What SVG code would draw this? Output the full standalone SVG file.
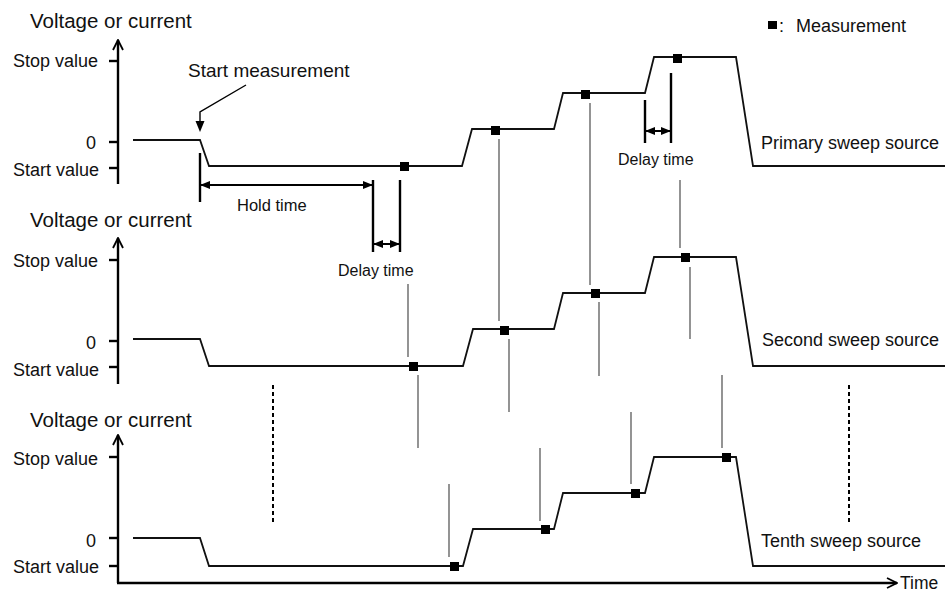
<svg xmlns="http://www.w3.org/2000/svg" width="950" height="593" viewBox="0 0 950 593">
<defs>
<style>
text{font-family:"Liberation Sans",Arial,sans-serif;fill:#111}
.title{font-size:20.5px}
.tick{font-size:18px;text-anchor:end}
.lbl{font-size:18px}
.small{font-size:16px}
.axis{stroke:#000;stroke-width:2.4;fill:none}
.wave{stroke:#111;stroke-width:1.8;fill:none;stroke-linejoin:miter}
.bar{stroke:#000;stroke-width:2.4;fill:none}
.guide{stroke:#666;stroke-width:1.4;fill:none}
.dots{stroke:#000;stroke-width:2;stroke-dasharray:4 3;fill:none}
.meas{fill:#000}
</style>
<marker id="ah" viewBox="0 0 10 10" refX="9" refY="5" markerWidth="10" markerHeight="10" markerUnits="userSpaceOnUse" orient="auto-start-reverse">
<path d="M0,1 L10,5 L0,9 Z" fill="#000"/>
</marker>
<marker id="axh" viewBox="0 0 12 12" refX="11" refY="6" markerWidth="12" markerHeight="12" markerUnits="userSpaceOnUse" orient="auto">
<path d="M1,1 L11,6 L1,11" fill="none" stroke="#000" stroke-width="1.8"/>
</marker>
</defs>
<rect width="950" height="593" fill="#fff"/>

<g id="legend">
<rect x="768" y="21" width="9" height="8" class="meas"/>
<text x="779" y="32" class="lbl">:</text>
<text x="796" y="32" class="lbl">Measurement</text>
</g>

<g id="panel-primary">
<text x="30" y="28" class="title">Voltage or current</text>
<line x1="118" y1="184" x2="118" y2="40" class="axis" marker-end="url(#axh)"/>
<line x1="109" y1="61" x2="118" y2="61" class="axis"/>
<line x1="109" y1="142" x2="118" y2="142" class="axis"/>
<line x1="109" y1="168" x2="118" y2="168" class="axis"/>
<text x="98" y="67" class="tick">Stop value</text>
<text x="96" y="149" class="tick">0</text>
<text x="99" y="176" class="tick">Start value</text>
<polyline class="wave" points="133,140 200,140 209,166 462,166 472,129 554,129 563,93 645,93 654,57 736,57 753,166 945,166"/>
<rect x="400" y="162" width="9" height="9" class="meas"/>
<rect x="491" y="126" width="9" height="9" class="meas"/>
<rect x="581" y="90" width="9" height="9" class="meas"/>
<rect x="673" y="54" width="9" height="9" class="meas"/>
<text x="761" y="149" class="lbl">Primary sweep source</text>
</g>

<g id="start-measurement">
<text x="188" y="77" style="font-size:19px">Start measurement</text>
<polyline points="246,85 200,112 200,122" fill="none" stroke="#000" stroke-width="1.4"/>
<path d="M195.5,121 L204.5,121 L200,132 Z" fill="#000"/>
</g>

<g id="hold-time">
<line x1="200" y1="153" x2="200" y2="202" class="bar"/>
<line x1="373" y1="180" x2="373" y2="252" class="bar"/>
<line x1="201" y1="185" x2="372" y2="185" stroke="#000" stroke-width="2.2" marker-start="url(#ah)" marker-end="url(#ah)"/>
<text x="237" y="211" style="font-size:16.5px">Hold time</text>
</g>

<g id="delay-time-1">
<line x1="400" y1="180" x2="400" y2="252" class="bar"/>
<line x1="374" y1="244" x2="399" y2="244" stroke="#000" stroke-width="2" marker-start="url(#ah)" marker-end="url(#ah)"/>
<text x="338" y="276" class="small">Delay time</text>
</g>

<g id="delay-time-2">
<line x1="645" y1="100" x2="645" y2="143" class="bar"/>
<line x1="671" y1="73" x2="671" y2="143" class="bar"/>
<line x1="646" y1="131" x2="670" y2="131" stroke="#000" stroke-width="2" marker-start="url(#ah)" marker-end="url(#ah)"/>
<text x="618" y="165" class="small">Delay time</text>
</g>

<g id="panel-second">
<text x="30" y="227" class="title">Voltage or current</text>
<line x1="118" y1="384" x2="118" y2="238" class="axis" marker-end="url(#axh)"/>
<line x1="109" y1="260" x2="118" y2="260" class="axis"/>
<line x1="109" y1="341" x2="118" y2="341" class="axis"/>
<line x1="109" y1="367" x2="118" y2="367" class="axis"/>
<text x="98" y="267" class="tick">Stop value</text>
<text x="96" y="349" class="tick">0</text>
<text x="99" y="376" class="tick">Start value</text>
<polyline class="wave" points="133,339 200,339 209,366 463,366 473,329 554,329 563,293 645,293 654,257 736,257 753,366 945,366"/>
<rect x="409" y="362" width="9" height="9" class="meas"/>
<rect x="500" y="326" width="9" height="9" class="meas"/>
<rect x="591" y="289" width="9" height="9" class="meas"/>
<rect x="681" y="253" width="9" height="9" class="meas"/>
<text x="762" y="346" class="lbl">Second sweep source</text>
</g>

<g id="panel-tenth">
<text x="30" y="427" class="title">Voltage or current</text>
<line x1="118" y1="583" x2="118" y2="435" class="axis" marker-end="url(#axh)"/>
<line x1="117" y1="583" x2="897" y2="583" class="axis" marker-end="url(#axh)"/>
<line x1="109" y1="457" x2="118" y2="457" class="axis"/>
<line x1="109" y1="538" x2="118" y2="538" class="axis"/>
<line x1="109" y1="566" x2="118" y2="566" class="axis"/>
<text x="98" y="465" class="tick">Stop value</text>
<text x="96" y="547" class="tick">0</text>
<text x="99" y="573" class="tick">Start value</text>
<polyline class="wave" points="133,538 200,538 209,566 463,566 473,529 554,529 563,493 645,493 654,457 736,457 753,566 945,566"/>
<rect x="450" y="562" width="9" height="9" class="meas"/>
<rect x="541" y="525" width="9" height="9" class="meas"/>
<rect x="631" y="489" width="9" height="9" class="meas"/>
<rect x="722" y="453" width="9" height="9" class="meas"/>
<text x="761" y="547" class="lbl">Tenth sweep source</text>
<text x="900" y="589" style="font-size:17.5px">Time</text>
</g>

<g id="connectors">
<line x1="408" y1="284" x2="408" y2="357" class="guide"/>
<line x1="418" y1="375" x2="418" y2="448" class="guide"/>
<line x1="449" y1="484" x2="449" y2="557" class="guide"/>
<line x1="499" y1="139" x2="499" y2="321" class="guide"/>
<line x1="509" y1="339" x2="509" y2="412" class="guide"/>
<line x1="540" y1="448" x2="540" y2="521" class="guide"/>
<line x1="590" y1="103" x2="590" y2="285" class="guide"/>
<line x1="599" y1="302" x2="599" y2="376" class="guide"/>
<line x1="631" y1="412" x2="631" y2="484" class="guide"/>
<line x1="680" y1="180" x2="680" y2="248" class="guide"/>
<line x1="690" y1="267" x2="690" y2="339" class="guide"/>
<line x1="722" y1="375" x2="722" y2="448" class="guide"/>
<line x1="273" y1="385" x2="273" y2="523" class="dots"/>
<line x1="849" y1="385" x2="849" y2="523" class="dots"/>
</g>
</svg>
